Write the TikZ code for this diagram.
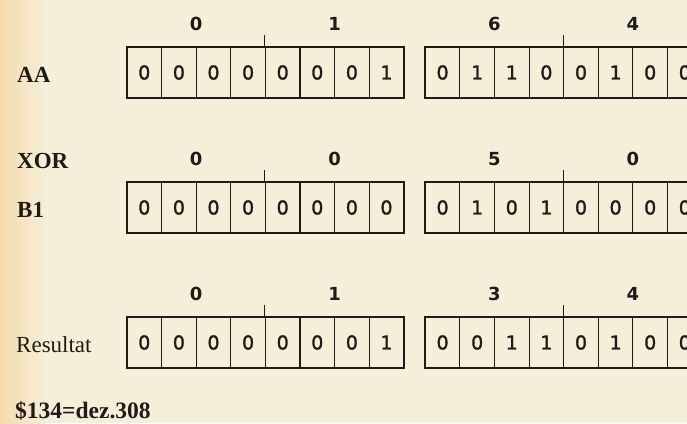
\documentclass[tikz,border=0pt]{standalone}
\usepackage{fontspec}
\setmainfont{Liberation Serif}
\newfontfamily\cellfont[BoldFont=DejaVu Sans,BoldFeatures={FakeBold=1.6}]{DejaVu Sans}
\newfontfamily\headfont{DejaVu Sans Bold}
\definecolor{paper}{RGB}{245,238,216}
\definecolor{paperedge}{RGB}{247,218,172}
\definecolor{ink}{RGB}{30,28,25}
\begin{document}
\begin{tikzpicture}[x=1pt,y=-1pt,
  cell/.style={draw=ink,line width=1.1pt,minimum width=34.6pt,minimum height=51pt,
    inner sep=0pt,text=ink,font=\cellfont\bfseries\fontsize{19}{19}\selectfont},
  outline/.style={draw=ink,line width=1.6pt},
  head/.style={anchor=base,text=ink,inner sep=0pt,font=\headfont\fontsize{18}{18}\selectfont},
  lab/.style={anchor=base west,inner sep=0pt,text=ink,font=\bfseries\fontsize{23}{23}\selectfont},
  labreg/.style={anchor=base west,inner sep=0pt,text=ink,font=\fontsize{23}{23}\selectfont},
  tick/.style={draw=ink,line width=1.1pt}]
\useasboundingbox (0,0) rectangle (687,423);
\clip (0,0) rectangle (687,423);
\fill[paper] (0,0) rectangle (687,423);
\shade[left color=paperedge,right color=paper] (0,0) rectangle (45,423);

% rows: name / top y / left bits / right bits
\foreach \r/\top/\bl/\br in {
   a/47/{0,0,0,0,0,0,0,1}/{0,1,1,0,0,1,0,0},
   b/182/{0,0,0,0,0,0,0,0}/{0,1,0,1,0,0,0,0},
   c/317/{0,0,0,0,0,0,0,1}/{0,0,1,1,0,1,0,0}}{
  \foreach \v [count=\i from 0] in \bl {
    \node[cell] (\r L\i) at ({127+17.3+\i*34.6},{\top+25.5}) {\raisebox{-1.5pt}{\v}};
  }
  \foreach \v [count=\i from 0] in \br {
    \node[cell] (\r R\i) at ({425.3+17.3+\i*34.6},{\top+25.5}) {\raisebox{-1.5pt}{\v}};
  }
  \draw[outline] (\r L0.north west) rectangle (\r L7.south east);
  \draw[outline] (\r R0.north west) rectangle (\r R7.south east);
  \draw[tick] (\r L4.north west) -- ++(0,-11);
  \draw[tick] (\r R4.north west) -- ++(0,-11);
}

% header digits
\node[head] (ha1) at (196.2,30) {0};
\node[head] (ha2) at (334.6,30) {1};
\node[head] (ha3) at (494.5,30) {6};
\node[head] (ha4) at (632.9,30) {4};
\node[head] (hb1) at (196.2,165) {0};
\node[head] (hb2) at (334.6,165) {0};
\node[head] (hb3) at (494.5,165) {5};
\node[head] (hb4) at (632.9,165) {0};
\node[head] (hc1) at (196.2,300) {0};
\node[head] (hc2) at (334.6,300) {1};
\node[head] (hc3) at (494.5,300) {3};
\node[head] (hc4) at (632.9,300) {4};

% labels
\node[lab] (lAA) at (17,82) {AA};
\node[lab] (lXOR) at (17,168) {XOR};
\node[lab] (lB1) at (17,217) {B1};
\node[labreg] (lRes) at (16,352) {Resultat};
\node[lab,font=\bfseries\fontsize{23.5}{23.5}\selectfont] (lDez) at (15,418) {\$134=dez.308};
\end{tikzpicture}
\end{document}
